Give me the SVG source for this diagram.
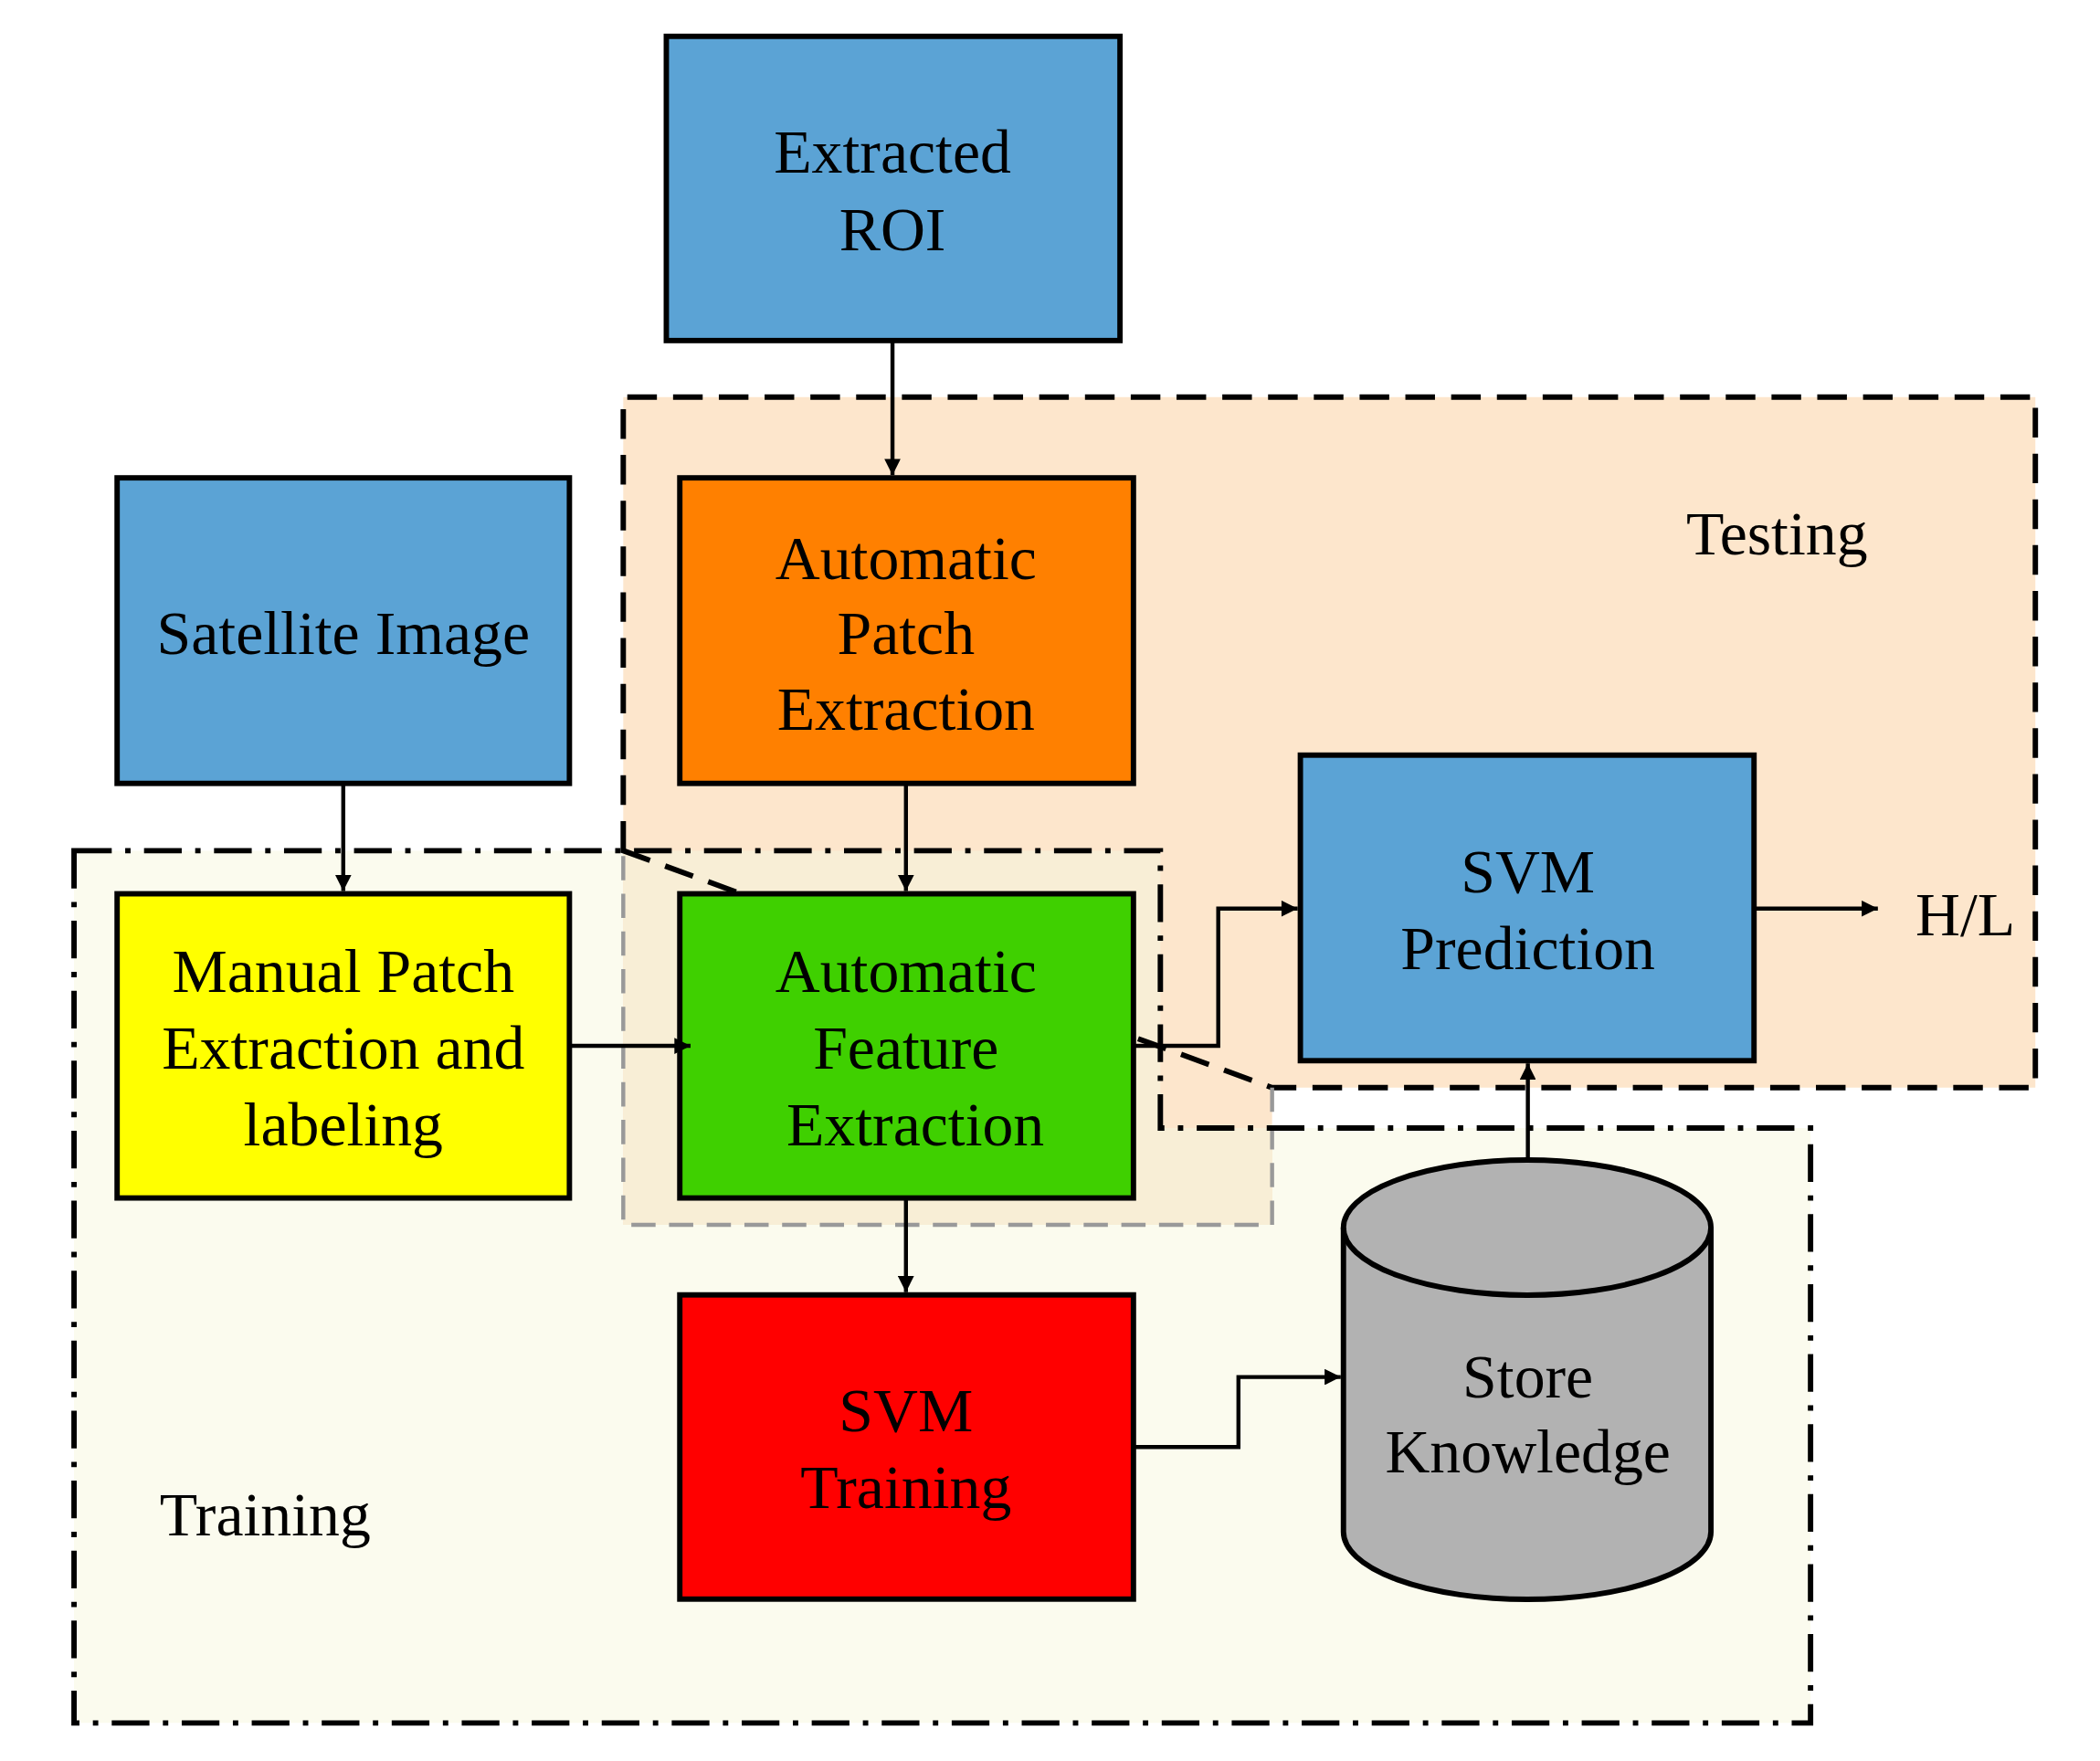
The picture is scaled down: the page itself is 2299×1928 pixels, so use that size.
<svg xmlns="http://www.w3.org/2000/svg" width="2299" height="1928" viewBox="0 0 2299 1928">
<defs>
<style>
.n{stroke:#000;stroke-width:4}
.t{font-family:"Liberation Serif",serif;font-size:46px;text-anchor:middle;fill:#000}
.c{fill:none;stroke:#000;stroke-width:3;marker-end:url(#a)}
</style>
<marker id="a" viewBox="0 0 10 10" refX="10" refY="5" markerWidth="14" markerHeight="12" markerUnits="userSpaceOnUse" orient="auto"><path d="M0,0L10,5L0,10z"/></marker>
</defs>
<rect width="2299" height="1928" fill="#fff"/>
<g transform="scale(1.4737)">
<g id="regions">
<polygon points="55,632 862,632 862,838 1345,838 1345,1280 55,1280" fill="#FBFBEE"/>
<polygon points="463,295 1512,295 1512,808 945,808 945,910 463,910" fill="#FDE6CC"/>
<path d="M463,632H862V838H945V910H463Z" fill="#F8EED6"/>
<polygon points="463,632 463,295 1512,295 1512,808 945,808" fill="none" stroke="#000" stroke-width="4" stroke-dasharray="22,12"/>
<path d="M945,808V910H463V632" fill="none" stroke="#999" stroke-width="3" stroke-dasharray="18,10"/>
<polygon points="55,632 862,632 862,838 1345,838 1345,1280 55,1280" fill="none" stroke="#000" stroke-width="4" stroke-dasharray="28,10,4,10"/>
<text class="t" x="1320" y="412">Testing</text>
<text class="t" x="197" y="1141">Training</text>
</g>
<g id="roi"><rect class="n" x="495" y="27" width="337" height="226" fill="#5BA3D5"/><text class="t" x="663" y="128">Extracted</text><text class="t" x="663" y="186">ROI</text></g>
<g id="sat"><rect class="n" x="87" y="355" width="336" height="227" fill="#5BA3D5"/><text class="t" x="255" y="486">Satellite Image</text></g>
<g id="ape"><rect class="n" x="505" y="355" width="337" height="227" fill="#FF8000"/><text class="t" x="673" y="430">Automatic</text><text class="t" x="673" y="486">Patch</text><text class="t" x="673" y="542">Extraction</text></g>
<g id="svmp"><rect class="n" x="966" y="561" width="337" height="227" fill="#5BA3D5"/><text class="t" x="1135" y="663">SVM</text><text class="t" x="1135" y="720">Prediction</text></g>
<g id="manual"><rect class="n" x="87" y="664" width="336" height="226" fill="#FFFF00"/><text class="t" x="255" y="737">Manual Patch</text><text class="t" x="255" y="794">Extraction and</text><text class="t" x="255" y="851">labeling</text></g>
<g id="afe"><rect class="n" x="505" y="664" width="337" height="226" fill="#3FD000"/><text class="t" x="673" y="737">Automatic</text><text class="t" x="673" y="794">Feature</text><text class="t" x="680" y="851">Extraction</text></g>
<g id="svmt"><rect class="n" x="505" y="962" width="337" height="226" fill="#FF0000"/><text class="t" x="673" y="1063">SVM</text><text class="t" x="673" y="1120">Training</text></g>
<g id="store"><path class="n" d="M998,912V1138A136,50 0 0 0 1271,1138V912A136,50 0 0 0 998,912Z" fill="#B2B2B2"/><path class="n" d="M998,912A136,50 0 0 0 1271,912" fill="none"/><text class="t" x="1135" y="1038">Store</text><text class="t" x="1135" y="1094">Knowledge</text></g>
<text class="t" x="1460" y="695">H/L</text>
<g id="connectors">
<path class="c" d="M663,253V353"/>
<path class="c" d="M255,582V662"/>
<path class="c" d="M673,582V662"/>
<path class="c" d="M423,777H513"/>
<path class="c" d="M673,890V960"/>
<path class="c" d="M842,777H905V675H964"/>
<path class="c" d="M842,1075H920V1023H996"/>
<path class="c" d="M1135,862V790"/>
<path class="c" d="M1303,675H1395"/>
</g>
</g>
</svg>
